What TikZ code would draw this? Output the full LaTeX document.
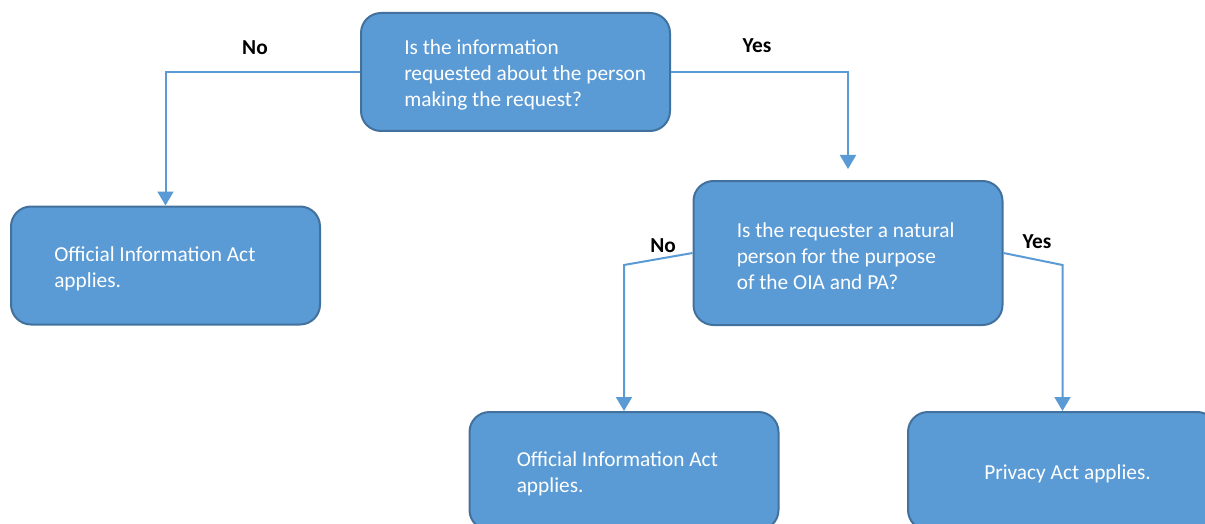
\documentclass[tikz,border=0pt]{standalone}
\usepackage{fontspec}
\setmainfont{Carlito}
\usetikzlibrary{arrows.meta,positioning}
\definecolor{boxblue}{HTML}{5B9BD5}
\definecolor{boxedge}{HTML}{41719C}

\begin{document}
\begin{tikzpicture}[x=0.75pt,y=-0.75pt,
  box/.style={draw=boxedge,fill=boxblue,line width=1.5pt,rounded corners=15pt,minimum width=231.75pt,minimum height=88.5pt,inner sep=0pt},
  txt/.style={text=white,align=left,inner sep=0pt,anchor=west,yshift=-2.25pt,font=\fontsize{16}{19.5}\selectfont},
  lbl/.style={font=\fontsize{16}{19.5}\selectfont\bfseries},
  flow/.style={draw=boxblue,line width=1.5pt,-{Triangle[width=12pt,length=10.5pt]}}]
\useasboundingbox (0,0) rectangle (1205,524);
\clip (0,0) rectangle (1205,524);
\node[box] (q1) at (515.5,72) {};
\node[box] (oia1) at (165.5,265.5) {};
\node[box,minimum height=108pt] (q2) at (848,253) {};
\node[box] (oia2) at (624,471) {};
\node[box] (pa) at (1062.5,471) {};
\node[txt] (q1text) at ([xshift=33pt]q1.west) {Is the information\\requested about the person\\making the request?};
\node[txt] (oia1text) at ([xshift=33pt]oia1.west) {Official Information Act\\applies.};
\node[txt] (q2text) at ([xshift=33pt]q2.west) {Is the requester a natural\\person for the purpose\\of the OIA and PA?};
\node[txt] (oia2text) at ([xshift=36pt]oia2.west) {Official Information Act\\applies.};
\node[txt] (patext) at ([xshift=57.75pt]pa.west) {Privacy Act applies.};
\node[lbl] (no1) at (255,48) {No};
\node[lbl] (yes1) at (757,46) {Yes};
\node[lbl] (no2) at (663,246) {No};
\node[lbl] (yes2) at (1037,242) {Yes};
\draw[flow] (q1.west) -| (oia1.north);
\draw[flow,shorten >=8.25pt] (q1.east) -| (q2.north);
\draw[flow] (q2.west) -- (oia2.north |- 0,265) -- (oia2.north);
\draw[flow] (q2.east) -- (pa.north |- 0,265) -- (pa.north);
\end{tikzpicture}
\end{document}
